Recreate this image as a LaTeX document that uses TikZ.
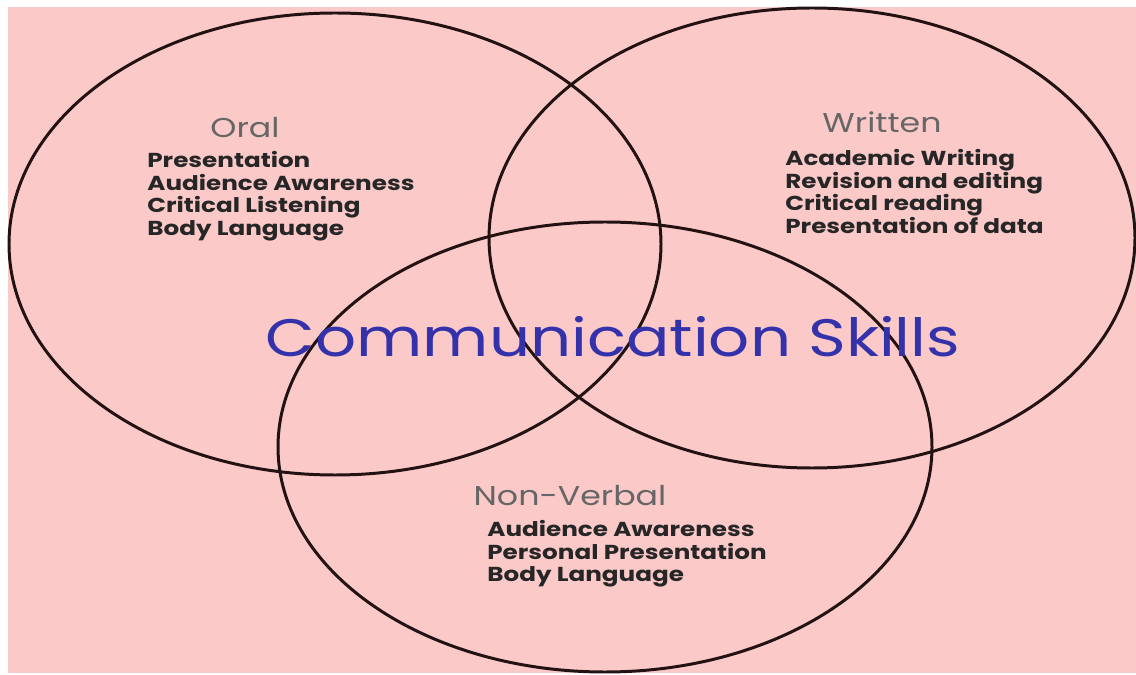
\documentclass[tikz,border=0pt]{standalone}
\usepackage{fontspec}
\setmainfont{Poppins}
\newfontfamily\widefont[FakeStretch=1.22]{Poppins}
\usetikzlibrary{positioning}

\definecolor{bgpink}{RGB}{252,201,201}
\definecolor{ringline}{RGB}{35,18,18}
\definecolor{titleblue}{RGB}{52,50,170}

\begin{document}
\begin{tikzpicture}[x=0.02cm, y=-0.02cm, every node/.style={inner sep=0pt},
    ring/.style={line width=1.7pt, ringline},
    heading/.style={font=\widefont\fontsize{15.5}{18}\selectfont, text=black!60},
    items/.style={font=\widefont\bfseries\fontsize{11.5}{12.8}\selectfont, align=left, anchor=north west, text=black!85}]
  \useasboundingbox (0,0) rectangle (1136,675);
  \fill[bgpink] (8,7) rectangle (1136,673);

  % the three areas
  \draw[ring] (335,244) ellipse [x radius=326, y radius=231];
  \draw[ring] (812,238) ellipse [x radius=323, y radius=230];
  \draw[ring] (605,447) ellipse [x radius=327, y radius=225];

  % title
  \node[font=\widefont\fontsize{30}{36}\selectfont, text=titleblue] (title) at (613,337) {Communication Skills};

  % oral
  \node[heading] (oral) at (245,128) {Oral};
  \node[items] (oralitems) at (147,151) {Presentation\\ Audience Awareness\\ Critical Listening\\ Body Language};

  % written
  \node[heading] (written) at (882,122) {Written};
  \node[items] (writtenitems) at (785,149) {Academic Writing\\ Revision and editing\\ Critical reading\\ Presentation of data};

  % non-verbal
  \node[heading] (nonverbal) at (570,496) {Non-Verbal};
  \node[items] (nonverbalitems) at (487,520) {Audience Awareness\\ Personal Presentation\\ Body Language};
\end{tikzpicture}
\end{document}
